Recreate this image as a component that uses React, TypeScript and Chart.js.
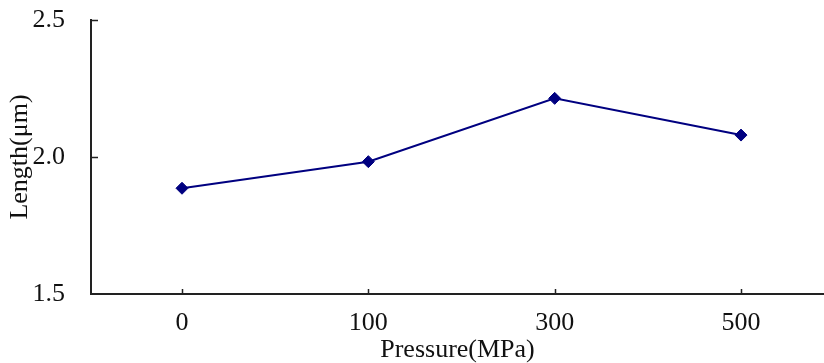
import React, { useEffect, useRef } from "react";
import { Chart, registerables } from "chart.js";

Chart.register(...registerables);

// ---- data ----
const categories = ["0", "100", "300", "500"];
const lengthValues = [1.886, 1.983, 2.214, 2.08];
const yTickValues = [1.5, 2.0, 2.5];
const xTitle = "Pressure(MPa)";
const yTitle = "Length(μm)";

const FONT = "'Liberation Serif', 'Times New Roman', serif";
const TEXT = "#111";
const AXIS = "#222";
const NAVY = "#000080";
const FS = 26;

export default function App() {
  const ref = useRef<HTMLCanvasElement | null>(null);

  useEffect(() => {
    if (!ref.current) return;

    const insideTicks = {
      id: "insideTicks",
      afterDraw(chart: any) {
        const ctx = chart.ctx;
        const xs = chart.scales.x;
        const ys = chart.scales.y;
        ctx.save();
        ctx.strokeStyle = AXIS;
        ctx.lineWidth = 1.5;
        ctx.beginPath();
        ys.ticks.forEach((t: any) => {
          if (t.value === ys.min) return;
          const py = Math.round(ys.getPixelForValue(t.value)) + 0.5;
          ctx.moveTo(xs.left, py);
          ctx.lineTo(xs.left + 7, py);
        });
        xs.ticks.forEach((t: any) => {
          if (!Number.isInteger(t.value)) return;
          const px = Math.round(xs.getPixelForValue(t.value)) + 0.5;
          ctx.moveTo(px, ys.bottom);
          ctx.lineTo(px, ys.bottom - 5);
        });
        ctx.stroke();
        ctx.restore();
      },
    };

    const chart = new Chart(ref.current, {
      type: "line",
      data: {
        datasets: [
          {
            data: lengthValues.map((v, i) => ({ x: i, y: v })),
            borderColor: NAVY,
            backgroundColor: NAVY,
            borderWidth: 2,
            pointStyle: "rectRot",
            pointRadius: 6,
            pointBorderWidth: 1,
            pointBackgroundColor: NAVY,
            pointBorderColor: NAVY,
            tension: 0,
            clip: false as any,
          },
        ],
      },
      options: {
        animation: false,
        responsive: false,
        maintainAspectRatio: false,
        layout: { autoPadding: false, padding: { top: 0, left: 0, right: 0, bottom: 0 } },
        plugins: {
          legend: { display: false },
          tooltip: { enabled: false },
        },
        scales: {
          x: {
            type: "linear",
            min: -0.4884,
            max: 3.4454,
            grid: { display: false, drawTicks: false, tickLength: 0 },
            border: { display: true, color: AXIS, width: 2 },
            ticks: {
              stepSize: 1,
              includeBounds: false,
              autoSkip: false,
              maxRotation: 0,
              padding: 14,
              color: TEXT,
              font: { family: FONT, size: FS },
              callback: (v: any) =>
                Number.isInteger(v) && categories[v] !== undefined ? categories[v] : "",
            },
            title: {
              display: true,
              text: xTitle,
              color: TEXT,
              font: { family: FONT, size: FS, lineHeight: 1.0 },
              padding: { top: 0, bottom: 0 },
            },
            afterFit: (scale: any) => {
              scale.height = 69;
              scale.paddingLeft = 0;
              scale.paddingRight = 0;
            },
          },
          y: {
            type: "linear",
            min: 1.5,
            max: 2.5,
            grid: { display: false, drawTicks: false, tickLength: 0 },
            border: { display: true, color: AXIS, width: 2 },
            afterBuildTicks: (scale: any) => {
              scale.ticks = yTickValues.map((v) => ({ value: v }));
            },
            ticks: {
              padding: 26,
              color: TEXT,
              font: { family: FONT, size: FS },
              callback: (v: any) => Number(v).toFixed(1),
            },
            title: {
              display: true,
              text: yTitle,
              color: TEXT,
              font: { family: FONT, size: FS },
              padding: { top: 5, bottom: 0 },
            },
            afterFit: (scale: any) => {
              scale.width = 91;
              scale.paddingTop = 20;
              scale.paddingBottom = 0;
            },
          },
        },
      },
      plugins: [insideTicks],
    });

    return () => chart.destroy();
  }, []);

  return (
    <div style={{ position: "fixed", left: 0, top: 0, width: 824, height: 363, background: "#fff" }}>
      <canvas ref={ref} width={824} height={363} style={{ display: "block", width: 824, height: 363 }} />
    </div>
  );
}
